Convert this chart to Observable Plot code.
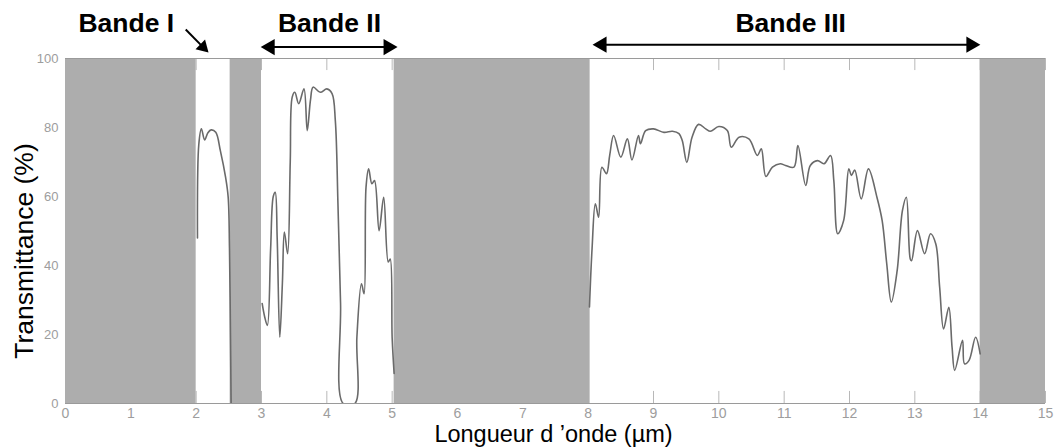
<!DOCTYPE html>
<html><head><meta charset="utf-8">
<script src="https://cdn.jsdelivr.net/npm/d3@7"></script>
<script src="https://cdn.jsdelivr.net/npm/@observablehq/plot@0.6"></script>
<style>body{margin:0;background:#fff}</style>
</head><body><div id="chart"></div>
<script>
// ---- data ----
const xTicks = [0,1,2,3,4,5,6,7,8,9,10,11,12,13,14,15];
const yTicks = [0,20,40,60,80,100];
const opaqueStart = [0, 2.52, 5.03, 14.0];
const opaqueEnd   = [2.0, 3.0, 8.03, 15];

const band1Wavelength = [2.02, 2.04, 2.08, 2.13, 2.18, 2.23, 2.30, 2.37, 2.45, 2.49, 2.51, 2.525, 2.535];
const band1Transmittance = [48, 75, 79.6, 76.4, 78.5, 79.3, 78.6, 73.3, 65.6, 59.8, 45, 20, 0];

const band2Wavelength = [3.01, 3.05, 3.09, 3.14, 3.18, 3.21, 3.24, 3.28, 3.32, 3.35, 3.40, 3.44, 3.47, 3.51, 3.57, 3.65, 3.70, 3.75, 3.79, 3.90, 4.00, 4.08, 4.13, 4.17, 4.21, 4.25, 4.43, 4.46, 4.53, 4.57, 4.60, 4.64, 4.69, 4.73, 4.80, 4.87, 4.94, 4.97, 5.00, 5.03];
const band2Transmittance = [29, 25, 22.6, 45, 60, 61.2, 48, 19.2, 35, 49.7, 43.4, 70, 88.8, 90.2, 86.9, 91.2, 79.1, 88, 91.7, 90.2, 91.2, 89.8, 82, 58, 29, 0, 0, 19.2, 34.7, 31.8, 62.7, 68, 63.7, 64.6, 50.1, 59.8, 41, 41.9, 19, 8.7];

const band3Wavelength = [8.02, 8.06, 8.11, 8.16, 8.21, 8.28, 8.33, 8.39, 8.50, 8.60, 8.67, 8.77, 8.80, 8.88, 9.0, 9.16, 9.29, 9.39, 9.44, 9.51, 9.59, 9.69, 9.80, 9.87, 10.0, 10.13, 10.19, 10.31, 10.46, 10.59, 10.65, 10.72, 10.82, 10.94, 11.02, 11.15, 11.21, 11.33, 11.40, 11.51, 11.61, 11.71, 11.76, 11.82, 11.91, 11.99, 12.03, 12.08, 12.18, 12.29, 12.42, 12.50, 12.57, 12.64, 12.73, 12.81, 12.87, 12.93, 12.95, 13.04, 13.15, 13.24, 13.32, 13.38, 13.44, 13.52, 13.57, 13.61, 13.73, 13.76, 13.83, 13.93, 14.0];
const band3Transmittance = [28, 45, 57.9, 54, 68.5, 66.6, 72, 77.7, 71.4, 76.7, 70.6, 77.7, 75.3, 79.1, 79.6, 78.6, 78.9, 78.2, 76.2, 69.9, 77.2, 80.9, 79.6, 78.9, 80.3, 79.1, 74.3, 77.2, 76.7, 71.9, 73.8, 65.8, 68.5, 69.5, 69, 68.5, 74.8, 63.2, 69, 70.4, 69.5, 71.9, 64.6, 49.2, 53, 68, 66.1, 67.7, 59.3, 68, 59.8, 53, 40.5, 29.4, 38.6, 55.9, 59.8, 41.9, 41.4, 50.1, 43.4, 49.2, 46.3, 33.7, 21.6, 27.9, 16.3, 9.6, 18.3, 11.5, 12.5, 19.2, 14.4];

const bandLabels = ["Bande I", "Bande II", "Bande III"];
const bandLabelX = [0.93, 4.04, 11.1];
const bandLabelY = 110.2;

const arrowX1 = [1.84, 3.13, 8.21];
const arrowY1 = [108.4, 103.3, 104.0];
const arrowX2 = [2.105, 4.94, 13.86];
const arrowY2 = [103.3, 103.3, 104.0];

const headX = [3.13, 4.94, 8.21, 13.86];
const headY = [103.3, 103.3, 104.0, 104.0];
const headRotate = [-90, 90, -90, 90];
const smallHeadX = [2.105], smallHeadY = [103.3], smallHeadRotate = [135];

const xLabel = "Longueur d ’onde (µm)";
const yLabel = "Transmittance (%)";

// ---- build tables ----
const curve = [];
[[band1Wavelength, band1Transmittance, "I"], [band2Wavelength, band2Transmittance, "II"], [band3Wavelength, band3Transmittance, "III"]]
  .forEach(([xs, ys, b]) => xs.forEach((x, i) => curve.push({x, y: ys[i], band: b})));
const opaque = opaqueStart.map((s, i) => ({x1: s, x2: opaqueEnd[i]}));
const labels = bandLabels.map((t, i) => ({t, x: bandLabelX[i]}));
const shafts = arrowX1.map((x1, i) => ({x1, y1: arrowY1[i], x2: arrowX2[i], y2: arrowY2[i]}));
const heads = headX.map((x, i) => ({x, y: headY[i], r: headRotate[i]}));
const smallHeads = smallHeadX.map((x, i) => ({x, y: smallHeadY[i], r: smallHeadRotate[i]}));

const font = "Liberation Sans, Arial, Helvetica, sans-serif";

const chart = Plot.plot({
  width: 1057,
  height: 447,
  marginLeft: 65,
  marginRight: 12,
  marginTop: 58,
  marginBottom: 44,
  style: {fontFamily: font, background: "#fff", overflow: "visible"},
  x: {domain: [0, 15]},
  y: {domain: [0, 100]},
  marks: [
    Plot.ruleX(xTicks, {x: d => d, y1: 0, y2: 3.5, stroke: "#b8b8b8"}),
    Plot.ruleX(xTicks, {x: d => d, y1: 96.5, y2: 100, stroke: "#b8b8b8"}),
    Plot.rectY(opaque, {x1: "x1", x2: "x2", y1: 0, y2: 100, fill: "#adadad"}),
    Plot.line(curve, {x: "x", y: "y", z: "band", stroke: "#6a6a6a", strokeWidth: 1.6, curve: "catmull-rom", clip: true}),
    Plot.ruleY([0], {stroke: "#9a9a9a", strokeWidth: 1.2}),
    Plot.ruleY([100], {stroke: "#9a9a9a", strokeWidth: 1.2}),
    Plot.axisX({ticks: xTicks, tickSize: 0, tickPadding: 5, fontSize: 14, color: "#9d9d9d", label: null, tickFormat: d => String(d)}),
    Plot.axisY({ticks: yTicks, tickSize: 0, tickPadding: 7, fontSize: 13, color: "#9d9d9d", label: null}),
    Plot.text([xLabel], {frameAnchor: "bottom", lineAnchor: "middle", dy: 31, dx: -2, fontSize: 23.5, fill: "#000"}),
    Plot.text([yLabel], {frameAnchor: "left", textAnchor: "middle", lineAnchor: "middle", rotate: -90, dx: -41, dy: 20, fontSize: 26.5, fill: "#000"}),
    Plot.link(shafts, {x1: "x1", y1: "y1", x2: "x2", y2: "y2", stroke: "#000", strokeWidth: 2, clip: false}),
    Plot.dot(heads, {x: "x", y: "y", rotate: "r", symbol: "triangle", r: 6, fill: "#000", stroke: "none"}),
    Plot.dot(smallHeads, {x: "x", y: "y", rotate: "r", symbol: "triangle", r: 5, fill: "#000", stroke: "none"}),
    Plot.text(labels, {x: "x", y: bandLabelY, text: "t", fontSize: 26.5, fontWeight: "bold", fill: "#000", lineAnchor: "middle"})
  ]
});
document.getElementById("chart").appendChild(chart);
</script>
</body></html>
